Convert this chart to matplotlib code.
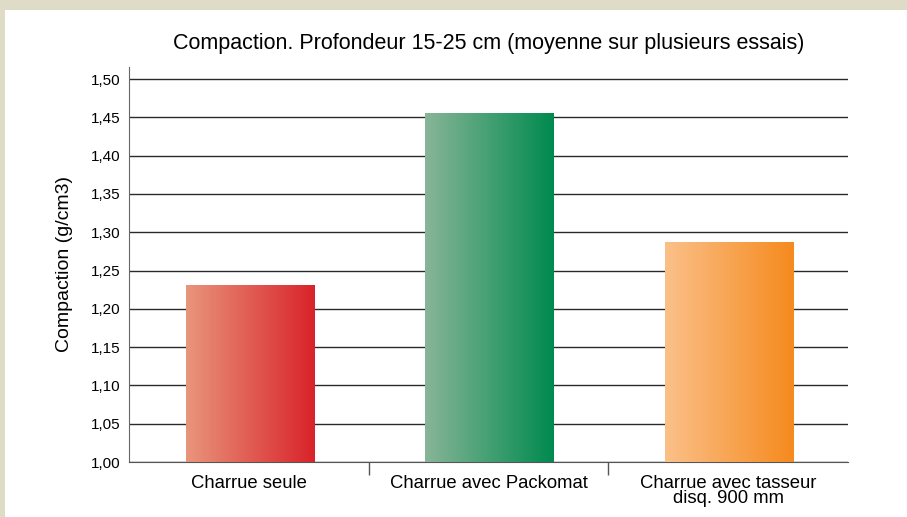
import numpy as np
import matplotlib.pyplot as plt
from matplotlib.colors import LinearSegmentedColormap
from matplotlib.patches import Rectangle

plt.rcParams['font.family'] = ['Liberation Sans', 'DejaVu Sans']

categories = ['Charrue seule', 'Charrue avec Packomat', 'Charrue avec tasseur\ndisq. 900 mm']
values = [1.231, 1.455, 1.286]
# gradient start / end colour for each bar
grad_colors = [('#e9957c', '#d9232a'), ('#88b597', '#008a4f'), ('#fbc089', '#f58a1e')]
yticks = np.arange(1.00, 1.501, 0.05)

fig = plt.figure(figsize=(9.07, 5.17), dpi=100)
fig.patch.set_facecolor('#dedcc6')
# white panel
fig.add_artist(Rectangle((5 / 907, 0), 1, 1 - 10 / 517, transform=fig.transFigure,
                         facecolor='white', edgecolor='none', zorder=0))

ax = fig.add_axes([129 / 907, 55 / 517, 719 / 907, 395 / 517])
ax.set_facecolor('none')

x = np.arange(len(categories))
width = 0.538
base = 1.0
bars = ax.bar(x + 0.006, np.array(values) - base, width, bottom=base, color='none', zorder=3)

# horizontal gradient inside each bar
grad = np.linspace(0, 1, 256).reshape(1, -1)
for b, (c0, c1) in zip(bars, grad_colors):
    cmap = LinearSegmentedColormap.from_list('g', [c0, c1])
    x0 = b.get_x()
    ax.imshow(grad, cmap=cmap, aspect='auto', zorder=3,
              extent=(x0, x0 + b.get_width(), base, base + b.get_height()))

ax.set_xlim(-0.5, 2.5)
ax.set_ylim(1.0, 1.5157)

# grid lines
for t in yticks:
    ax.axhline(t, color='#2a2a2a', lw=1.0, zorder=1)

ax.set_yticks(yticks)
ax.set_yticklabels([f'{t:.2f}'.replace('.', ',') for t in yticks], fontsize=11)
ax.tick_params(axis='y', length=0, pad=6)

ax.set_xticks(x)
ax.set_xticklabels(categories, fontsize=13.3, linespacing=0.85)
ax.set_xticks([0.5, 1.5], minor=True)
ax.tick_params(axis='x', which='major', length=0, pad=9)
ax.tick_params(axis='x', which='minor', length=9.5, width=1, color='#555555', direction='out')

for s in ['top', 'right']:
    ax.spines[s].set_visible(False)
ax.spines['left'].set_color('#666666')
ax.spines['bottom'].set_color('#555555')

ax.set_ylabel('Compaction (g/cm3)', fontsize=14, labelpad=13)
fig.text(489 / 907, 1 - 44 / 517, 'Compaction. Profondeur 15-25 cm (moyenne sur plusieurs essais)',
         ha='center', va='center', fontsize=15.5)

fig.savefig('out.png', dpi=100)
